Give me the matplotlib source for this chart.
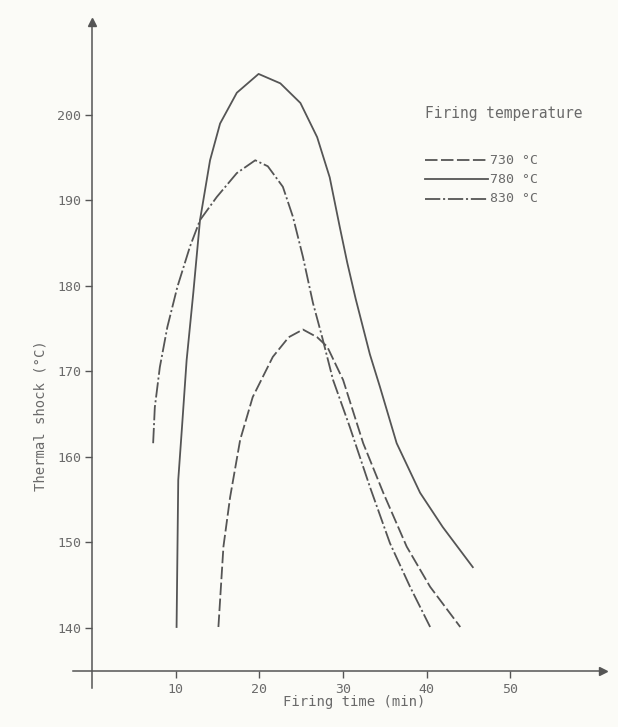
import matplotlib.pyplot as plt

plt.rcParams['lines.scale_dashes'] = False

# 730 C  (dashed)
t730 = [15.1, 15.7, 16.5, 17.7, 19.2, 21.6, 23.5, 25.2, 26.9, 28.1, 30.0, 32.4, 34.8, 37.6, 40.4, 44.0]
s730 = [140.1, 149.5, 155.3, 162.0, 167.0, 171.7, 174.0, 174.9, 174.0, 172.9, 169.0, 161.6, 155.8, 149.5, 144.8, 140.1]

# 780 C  (solid)
t780 = [10.1, 10.3, 10.75, 11.3, 12.1, 12.9, 14.1, 15.3, 17.3, 19.9, 22.5, 24.9, 26.9,
        28.4, 29.6, 30.5, 31.5, 33.2, 34.4, 36.4, 39.2, 41.9, 45.5]
s780 = [140.1, 157.3, 163.5, 171.3, 179.2, 187.7, 194.7, 199.0, 202.6, 204.8, 203.7, 201.4, 197.4,
        192.7, 186.9, 182.7, 178.5, 172.0, 168.2, 161.6, 155.8, 151.8, 147.1]

# 830 C  (dash-dot)
t830 = [7.3, 7.5, 8.1, 9.0, 10.2, 11.7, 12.9, 14.9, 17.3, 19.5, 21.0, 22.8, 24.0, 25.2,
        26.4, 27.5, 28.8, 30.8, 33.2, 35.6, 38.0, 40.4]
s830 = [161.6, 165.8, 170.5, 175.2, 179.9, 184.6, 187.7, 190.4, 193.2, 194.7, 194.0, 191.6, 188.1, 183.4,
        178.0, 174.0, 169.0, 163.5, 156.5, 149.9, 144.8, 140.1]

xticks = [10, 20, 30, 40, 50]
yticks = [140, 150, 160, 170, 180, 190, 200]
labels = ['730 °C', '780 °C', '830 °C']

ink = '#555555'
txt = '#6a6a6a'
font = 'DejaVu Sans Mono'

fig = plt.figure(figsize=(6.18, 7.27), dpi=100, facecolor='#fbfbf7')
ax = fig.add_axes([0, 0, 1, 1])
ax.set_facecolor('#fbfbf7')
ax.set_xlim(-11.0, 62.85)
ax.set_ylim(128.4, 213.45)

x_axis_y = 134.9
ax.spines['top'].set_visible(False)
ax.spines['right'].set_visible(False)
ax.spines['left'].set_position(('data', 0))
ax.spines['bottom'].set_position(('data', x_axis_y))
ax.spines['left'].set_bounds(133.0, 210.9)
ax.spines['bottom'].set_bounds(-2.3, 61.0)
for s in ['left', 'bottom']:
    ax.spines[s].set_color(ink)
    ax.spines[s].set_linewidth(1.1)
ax.plot(0, 210.9, marker='^', color=ink, markersize=6, clip_on=False)
ax.plot(61.0, x_axis_y, marker='>', color=ink, markersize=6, clip_on=False)

ax.set_xticks(xticks)
ax.set_yticks(yticks)
ax.tick_params(axis='both', colors=ink, length=5, width=1, labelcolor=txt, labelsize=9.5)
ax.tick_params(axis='x', pad=3)
ax.tick_params(axis='y', pad=3)
for lab in ax.get_xticklabels() + ax.get_yticklabels():
    lab.set_family(font)

kw = dict(color=ink, lw=1.3, solid_joinstyle='round', dash_joinstyle='round')
ax.plot(t730, s730, linestyle=(0, (9, 2.5)), **kw)
ax.plot(t780, s780, linestyle='-', **kw)
ax.plot(t830, s830, linestyle=(0, (11, 2, 1.5, 2)), **kw)

ax.text(31.3, 131.3, 'Firing time (min)', ha='center', va='center',
        color=txt, fontsize=10, family=font)
ax.text(-6.2, 164.8, 'Thermal shock (°C)', ha='center', va='center', rotation=90,
        color=txt, fontsize=10, family=font)

# legend drawn by hand to copy the figure's layout
ax.text(39.8, 200.2, 'Firing temperature', ha='left', va='center',
        color=txt, fontsize=10.5, family=font)
styles = [(0, (9, 2.5)), '-', (0, (11, 2, 1.5, 2))]
rows = [194.7, 192.5, 190.2]
for lab, ls, ry in zip(labels, styles, rows):
    ax.plot([39.8, 47.3], [ry, ry], color=ink, lw=1.3, linestyle=ls)
    ax.text(47.5, ry, lab, ha='left', va='center', color=txt, fontsize=9.5, family=font)

fig.savefig('out.png', dpi=100, facecolor=fig.get_facecolor())
